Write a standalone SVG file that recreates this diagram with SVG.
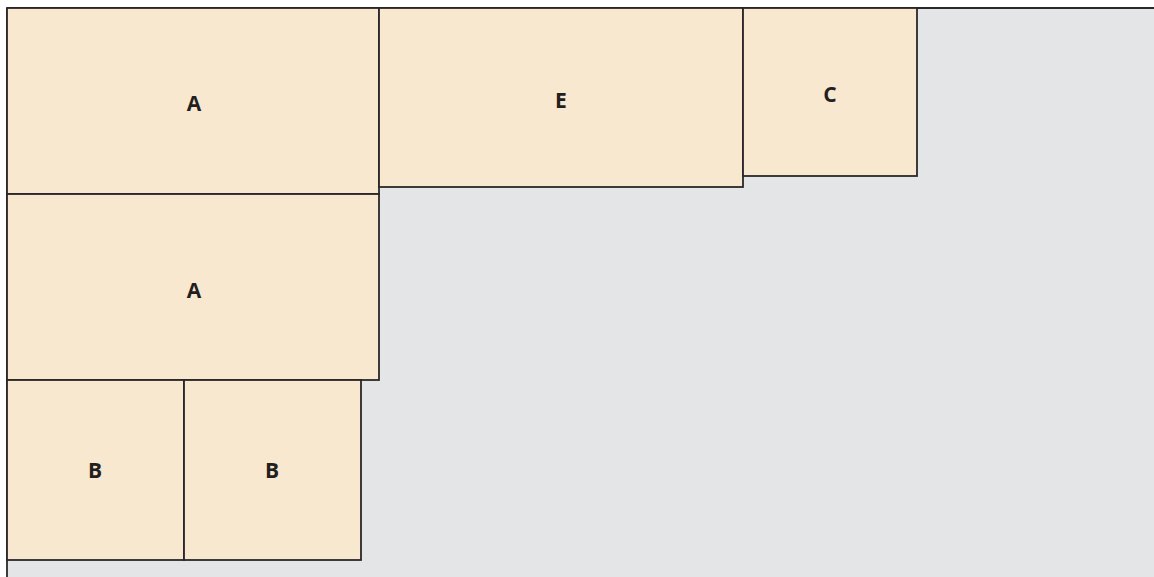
<svg xmlns="http://www.w3.org/2000/svg" width="1154" height="577" viewBox="0 0 1154 577">
<style>
.box{fill:#f8e8cf;stroke:#2b2728;stroke-width:1.8}
.lbl{font-family:"Open Sans","Liberation Sans",sans-serif;font-weight:bold;font-size:21px;fill:#231f20;text-anchor:middle}
</style>
<rect x="0" y="0" width="1154" height="577" fill="#ffffff"/>
<rect x="7" y="8" width="1147" height="569" fill="#e4e5e7"/>
<line x1="7" y1="8" x2="1154" y2="8" stroke="#2b2728" stroke-width="1.8"/>
<line x1="7" y1="8" x2="7" y2="577" stroke="#2b2728" stroke-width="1.8"/>
<g id="A1"><rect class="box" x="7" y="8" width="372" height="186"/><text class="lbl" x="194" y="111">A</text></g>
<g id="A2"><rect class="box" x="7" y="194" width="372" height="186"/><text class="lbl" x="194" y="298">A</text></g>
<g id="B1"><rect class="box" x="7" y="380" width="177" height="180"/><text class="lbl" x="95" y="478">B</text></g>
<g id="B2"><rect class="box" x="184" y="380" width="177" height="180"/><text class="lbl" x="272" y="478">B</text></g>
<g id="E"><rect class="box" x="379" y="8" width="364" height="179"/><text class="lbl" x="561" y="108">E</text></g>
<g id="C"><rect class="box" x="743" y="8" width="174" height="168"/><text class="lbl" x="830" y="102">C</text></g>
<g id="connectors"></g>
</svg>
